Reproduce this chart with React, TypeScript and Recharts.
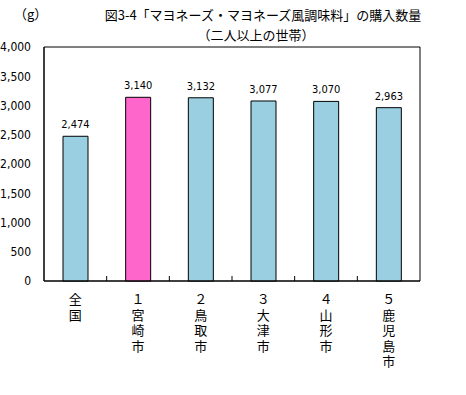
import React from 'react';
import { BarChart, Bar, XAxis, YAxis, Cell, LabelList, ReferenceArea } from 'recharts';

const categories = ['全国', '１宮崎市', '２鳥取市', '３大津市', '４山形市', '５鹿児島市'];
const amounts = [2474, 3140, 3132, 3077, 3070, 2963];
const barColors = ['#99CFE0', '#FF66CC', '#99CFE0', '#99CFE0', '#99CFE0', '#99CFE0'];
const yTicks = [0, 500, 1000, 1500, 2000, 2500, 3000, 3500, 4000];

const data = categories.map((name, i) => ({ name, value: amounts[i] }));

const W = 466;
const H = 395;
const PLOT_LEFT = 44;
const PLOT_RIGHT = 420;
const PLOT_BOTTOM = 281;
const BAND = (PLOT_RIGHT - PLOT_LEFT) / categories.length;

const jpFont = "'Noto Sans CJK JP', sans-serif";
const numFont = "'DejaVu Sans Condensed', 'Liberation Sans Narrow', sans-serif";

// vertical (tategaki) label + small tick at the category boundary
const VerticalTick = (props: any) => {
  const { x, payload, index } = props;
  const bx = x + BAND / 2;
  return (
    <g>
      {index < categories.length - 1 && (
        <line x1={bx} x2={bx} y1={PLOT_BOTTOM} y2={PLOT_BOTTOM - 5} stroke="#000" strokeWidth={1} />
      )}
      <text
        x={x}
        y={PLOT_BOTTOM + 12}
        fontSize={13}
        fontFamily={jpFont}
        fill="#000"
        style={{ writingMode: 'vertical-rl', letterSpacing: '2.5px' }}
      >
        {payload.value}
      </text>
    </g>
  );
};

const App = () => {
  return (
    <div style={{ position: 'absolute', left: 0, top: 0, width: W, height: H, background: '#fff' }}>
      <BarChart
        width={W}
        height={H}
        data={data}
        margin={{ top: 47, right: W - PLOT_RIGHT, left: 0, bottom: 0 }}
      >
        <text x={14} y={19} fontSize={13} fontFamily={jpFont} fill="#000">（g）</text>
        <text x={263} y={20} textAnchor="middle" fontSize={13} fontFamily={jpFont} fill="#000">
          図3-4「マヨネーズ・マヨネーズ風調味料」の購入数量
        </text>
        <text x={256} y={39.5} textAnchor="middle" fontSize={13} fontFamily={jpFont} fill="#000">
          （二人以上の世帯）
        </text>
        <XAxis
          dataKey="name"
          height={H - PLOT_BOTTOM}
          axisLine={{ stroke: '#000' }}
          tickLine={false}
          interval={0}
          tick={<VerticalTick />}
        />
        <YAxis
          width={PLOT_LEFT}
          domain={[0, 4000]}
          ticks={yTicks}
          axisLine={{ stroke: '#000' }}
          tickLine={false}
          tickMargin={7}
          tick={{ fontSize: 12, fontFamily: numFont, fill: '#000' }}
          tickFormatter={(v: number) => v.toLocaleString('en-US')}
        />
        <ReferenceArea y1={0} y2={4000} fill="none" stroke="#000" strokeWidth={1} ifOverflow="visible" />
        <Bar dataKey="value" stroke="#000" strokeWidth={1} barSize={25} isAnimationActive={false}>
          {data.map((d, i) => (
            <Cell key={d.name} fill={barColors[i]} />
          ))}
          <LabelList
            dataKey="value"
            position="top"
            offset={8}
            fontSize={11}
            fontFamily={numFont}
            fill="#000"
            formatter={(v: any) => Number(v).toLocaleString('en-US')}
          />
        </Bar>
      </BarChart>
    </div>
  );
};

export default App;
